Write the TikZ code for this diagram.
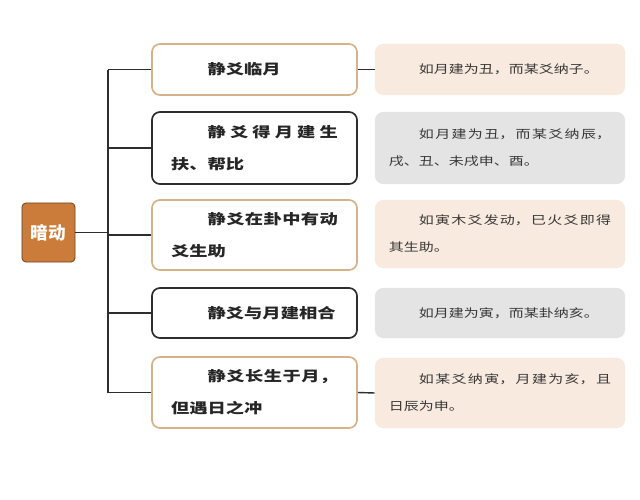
\documentclass[tikz,border=0pt]{standalone}
\usepackage{fontspec}
\newfontfamily\cjk[FakeStretch=1.3]{Noto Sans CJK SC}
\newfontfamily\cjkplain{Noto Sans CJK SC}
\XeTeXlinebreaklocale "zh"
\XeTeXlinebreakskip=0pt plus 5pt

\definecolor{tanline}{RGB}{212,178,138}
\definecolor{darkline}{RGB}{45,45,45}
\definecolor{tanfill}{RGB}{248,234,222}
\definecolor{greyfill}{RGB}{228,228,228}
\definecolor{rootfill}{RGB}{204,124,58}
\definecolor{notetext}{RGB}{55,55,55}

\newcommand{\ind}{\phantom{静爻}}

\tikzset{
  mainbox/.style={draw=#1, line width=1.2pt, rounded corners=0.2cm, fill=white,
    minimum width=5.125cm, text width=4.17cm, align=justify,
    font={\cjk\bfseries\fontsize{10}{22.7}\selectfont}, text=black!85},
  notebox/.style={fill=#1, rounded corners=0.2cm,
    minimum width=6.25cm, text width=5.55cm, align=justify,
    font={\cjk\fontsize{8.2}{19.2}\selectfont}, text=notetext},
}

\begin{document}
\begin{tikzpicture}[x=0.025cm, y=-0.025cm]
  \useasboundingbox (0,0) rectangle (640,500);

  \node[draw=rootfill!55!black, line width=0.6pt, fill=rootfill, rounded corners=0.1cm,
    minimum width=1.325cm, minimum height=1.475cm, text=white,
    font={\cjkplain\bfseries\fontsize{12.5}{14}\selectfont}] (dong) at (48.5,232.5) {暗动};

  \node[mainbox=tanline, minimum height=1.275cm] (b1) at (254.5,69.5) {\ind 静爻临月};
  \node[mainbox=darkline, minimum height=1.8cm] (b2) at (254.5,148) {\ind 静爻得月建生\linebreak 扶、帮比};
  \node[mainbox=tanline, minimum height=1.75cm] (b3) at (254.5,235) {\ind 静爻在卦中有动\linebreak 爻生助};
  \node[mainbox=darkline, minimum height=1.25cm] (b4) at (254.5,313) {\ind 静爻与月建相合};
  \node[mainbox=tanline, minimum height=1.775cm] (b5) at (254.5,392.5) {\ind 静爻长生于月，\linebreak 但遇日之冲};

  \node[notebox=tanfill, minimum height=1.275cm] (r1) at (500,69.5) {\ind 如月建为丑，而某爻纳子。};
  \node[notebox=greyfill, minimum height=1.8cm] (r2) at (500,148) {\ind 如月建为丑，而某爻纳辰，\linebreak 戌、丑、未戌申、酉。};
  \node[notebox=tanfill, minimum height=1.7cm] (r3) at (500,234) {\ind 如寅木爻发动，巳火爻即得\linebreak 其生助。};
  \node[notebox=greyfill, minimum height=1.25cm] (r4) at (500,313) {\ind 如月建为寅，而某卦纳亥。};
  \node[notebox=tanfill, minimum height=1.75cm] (r5) at (500,393) {\ind 如某爻纳寅，月建为亥，且\linebreak 日辰为申。};

  % tree lines
  \coordinate (trunk) at (108,232.5);
  \draw[line width=1pt, darkline] (dong.east) -- (trunk);
  \draw[line width=1pt, darkline] (trunk |- b1.west) -- (trunk |- b5.west);
  \foreach \i in {1,...,5}
    \draw[line width=1pt, darkline] (trunk |- b\i.west) -- (b\i.west);

  \draw[line width=1pt, darkline] (b1.east) -- (r1.west);
  \draw[line width=1pt, darkline] (b5.east) -- (r5.west);
\end{tikzpicture}
\end{document}
